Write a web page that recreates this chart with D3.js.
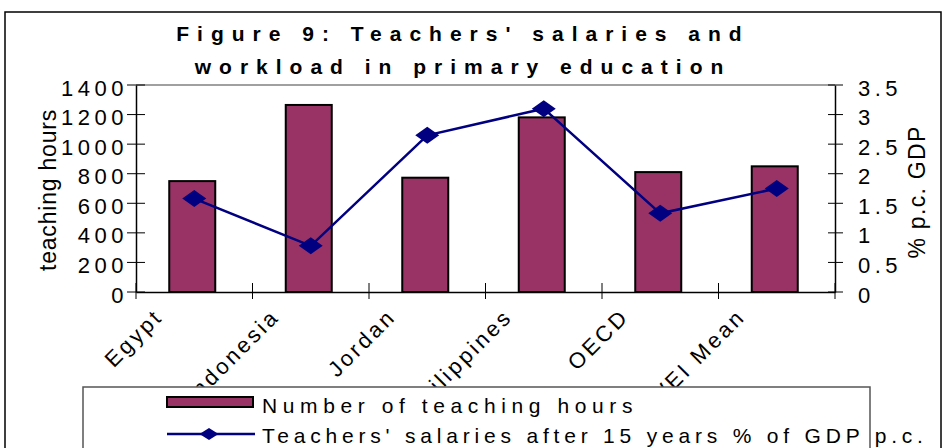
<!DOCTYPE html>
<html>
<head>
<meta charset="utf-8">
<script src="https://cdn.jsdelivr.net/npm/d3@7"></script>
<style>
  html, body { margin: 0; padding: 0; background: #fff; overflow: hidden; }
  svg { display: block; font-family: Arial, "Liberation Sans", sans-serif; }
</style>
</head>
<body>
<svg id="chart" width="943" height="448"></svg>
<script>
const categories = ["Egypt", "Indonesia", "Jordan", "Philippines", "OECD", "WEI Mean"];
const teachingHours = [750, 1265, 773, 1181, 811, 850];
const salaryPctGDP = [1.58, 0.78, 2.65, 3.10, 1.33, 1.75];
const leftTicks = [0, 200, 400, 600, 800, 1000, 1200, 1400];
const rightTicks = [0, 0.5, 1, 1.5, 2, 2.5, 3, 3.5];
const titleLines = ["Figure 9: Teachers' salaries and", "workload in primary education"];
const leftTitle = "teaching hours";
const rightTitle = "% p.c. GDP";
const legendLabels = ["Number of teaching hours", "Teachers' salaries after 15 years % of GDP p.c."];

const svg = d3.select("#chart");
const plot = { left: 136, right: 835, top: 85, bottom: 292 };
const barColor = "#993366", lineColor = "#000080";

// outer chart border
svg.append("rect").attr("x", 5).attr("y", 12).attr("width", 936).attr("height", 460)
  .attr("fill", "#fff").attr("stroke", "#000").attr("stroke-width", 1.5);

// title
svg.append("g").selectAll("text").data(titleLines).join("text")
  .attr("x", 463).attr("y", (d, i) => 41 + i * 33)
  .attr("text-anchor", "middle").attr("font-size", 21).attr("font-weight", "bold")
  .attr("letter-spacing", 8).attr("fill", "#000").text(d => d);

const x = d3.scaleBand().domain(categories).range([plot.left, plot.right]).paddingInner(0).paddingOuter(0);
const yL = d3.scaleLinear().domain([0, 1400]).range([plot.bottom, plot.top]);
const yR = d3.scaleLinear().domain([0, 3.5]).range([plot.bottom, plot.top]);

// plot top border
svg.append("line").attr("x1", plot.left).attr("x2", plot.right).attr("y1", plot.top).attr("y2", plot.top)
  .attr("stroke", "#808080").attr("stroke-width", 1.5);

// bars
const barW = 46;
svg.append("g").selectAll("rect").data(categories).join("rect")
  .attr("x", (d) => x(d) + x.bandwidth() / 2 - barW / 2 - 2)
  .attr("y", (d, i) => yL(teachingHours[i]))
  .attr("width", barW)
  .attr("height", (d, i) => yL(0) - yL(teachingHours[i]))
  .attr("fill", barColor).attr("stroke", "#000").attr("stroke-width", 2);

// left axis
const gL = svg.append("g").attr("transform", `translate(${plot.left},0)`)
  .call(d3.axisLeft(yL).tickValues(leftTicks).tickSize(0).tickFormat(""));
gL.select(".domain").attr("stroke", "#000").attr("stroke-width", 1.5);
svg.append("g").selectAll("line").data(leftTicks).join("line")
  .attr("x1", plot.left - 9).attr("x2", plot.left + 9)
  .attr("y1", d => yL(d)).attr("y2", d => yL(d)).attr("stroke", "#000").attr("stroke-width", 1);
svg.append("g").selectAll("text").data(leftTicks).join("text")
  .attr("x", 128).attr("y", d => yL(d) + 10.5).attr("text-anchor", "end")
  .attr("font-size", 22).attr("letter-spacing", 4.5).attr("fill", "#000").text(d => d);

// right axis
const gR = svg.append("g").attr("transform", `translate(${plot.right},0)`)
  .call(d3.axisRight(yR).tickValues(rightTicks).tickSize(0).tickFormat(""));
gR.select(".domain").attr("stroke", "#000").attr("stroke-width", 1.5);
svg.append("g").selectAll("line").data(rightTicks).join("line")
  .attr("x1", plot.right - 7).attr("x2", plot.right + 8)
  .attr("y1", d => yR(d)).attr("y2", d => yR(d)).attr("stroke", "#000").attr("stroke-width", 1);
svg.append("g").selectAll("text").data(rightTicks).join("text")
  .attr("x", 858).attr("y", d => yR(d) + 10.5).attr("text-anchor", "start")
  .attr("font-size", 22).attr("letter-spacing", 4.5).attr("fill", "#000").text(d => d3.format("~g")(d));

// bottom axis
const gB = svg.append("g").attr("transform", `translate(0,${plot.bottom})`)
  .call(d3.axisBottom(x).tickSize(0).tickFormat(""));
gB.select(".domain").attr("stroke", "#000").attr("stroke-width", 1.5);
const boundaries = categories.map(c => x(c)).concat([x(categories[categories.length - 1]) + x.step()]);
svg.append("g").selectAll("line").data(boundaries).join("line")
  .attr("x1", d => d).attr("x2", d => d).attr("y1", plot.bottom - 9).attr("y2", plot.bottom + 7)
  .attr("stroke", "#000").attr("stroke-width", 1);

// category labels
svg.append("g").selectAll("text").data(categories).join("text")
  .attr("transform", d => `translate(${x(d) + x.bandwidth() / 2 - 30},318) rotate(-45)`)
  .attr("text-anchor", "end").attr("font-size", 22).attr("letter-spacing", 3)
  .attr("fill", "#000").text(d => d);

// axis titles
svg.append("text").attr("transform", `translate(56,190) rotate(-90)`)
  .attr("text-anchor", "middle").attr("font-size", 23).attr("letter-spacing", 0.8)
  .attr("fill", "#000").text(leftTitle);
svg.append("text").attr("transform", `translate(925,192) rotate(-90)`)
  .attr("text-anchor", "middle").attr("font-size", 23).attr("letter-spacing", 1.3)
  .attr("fill", "#000").text(rightTitle);

// line series
const cx = (d) => x(d) + x.bandwidth() / 2;
const pts = categories.map((c, i) => [cx(c), yR(salaryPctGDP[i])]);
svg.append("path").datum(pts).attr("d", d3.line())
  .attr("fill", "none").attr("stroke", lineColor).attr("stroke-width", 2.5);
const diamond = (w, h) => `M0,${-h}L${w},0L0,${h}L${-w},0Z`;
svg.append("g").selectAll("path").data(pts).join("path")
  .attr("transform", d => `translate(${d[0]},${d[1]})`)
  .attr("d", diamond(12, 8.5)).attr("fill", lineColor);

// legend
svg.append("rect").attr("x", 83).attr("y", 387).attr("width", 787).attr("height", 80)
  .attr("fill", "#fff").attr("stroke", "#555").attr("stroke-width", 1.5);
svg.append("rect").attr("x", 167).attr("y", 397).attr("width", 86).attr("height", 10)
  .attr("fill", barColor).attr("stroke", "#000").attr("stroke-width", 2);
svg.append("line").attr("x1", 167).attr("x2", 255).attr("y1", 434).attr("y2", 434)
  .attr("stroke", lineColor).attr("stroke-width", 2.5);
svg.append("path").attr("transform", "translate(209,434)").attr("d", diamond(9.5, 6)).attr("fill", lineColor);
svg.append("g").selectAll("text").data(legendLabels).join("text")
  .attr("x", 262).attr("y", (d, i) => 413 + i * 30)
  .attr("font-size", 21).attr("letter-spacing", (d, i) => i === 0 ? 5.6 : 4.8)
  .attr("fill", "#000").text(d => d);
</script>
</body>
</html>
